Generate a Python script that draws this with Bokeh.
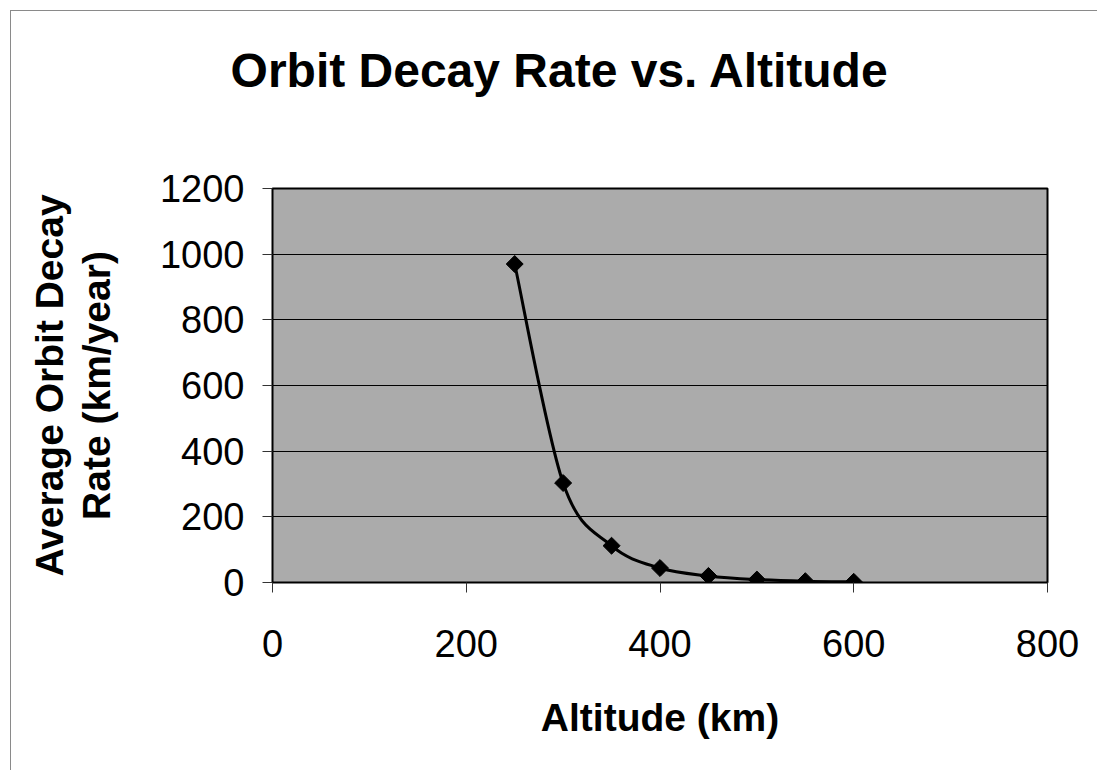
import numpy as np
from bokeh.plotting import figure
from bokeh.models import Range1d, FixedTicker, LinearAxis
from bokeh.embed import file_html
from bokeh.resources import INLINE

# Data
altitude_km = [250, 300, 350, 400, 450, 500, 550, 600]
decay_rate = [970, 303, 112, 44, 20, 9, 4, 2]
x_ticks = [0, 200, 400, 600, 800]
y_ticks = [0, 200, 400, 600, 800, 1000, 1200]

title_text = "Orbit Decay Rate vs. Altitude"
x_label = "Altitude (km)"
y_label = "Average Orbit Decay\nRate (km/year)"

FONT = "Liberation Sans"

p = figure(
    output_backend="svg", toolbar_location=None,
    frame_width=775, frame_height=394,
    min_border_left=261, min_border_right=50,
    min_border_top=177, min_border_bottom=188,
    x_range=Range1d(0, 800), y_range=Range1d(0, 1200),
)
p.styles = {"margin-left": "10px", "margin-top": "10px",
            "border-left": "1px solid #8a8a8a", "border-top": "1px solid #8a8a8a"}

p.background_fill_color = "#ababab"
p.border_fill_color = "white"
p.outline_line_color = "black"
p.outline_line_width = 2

p.xgrid.grid_line_color = None
p.ygrid.grid_line_color = "black"
p.ygrid.grid_line_width = 1.2

for ax in (p.xaxis[0], p.yaxis[0]):
    ax.axis_line_color = "black"
    ax.axis_line_width = 1
    ax.major_tick_line_color = "#333333"
    ax.major_tick_in = 0
    ax.major_tick_out = 10
    ax.minor_tick_line_color = None
    ax.major_label_text_font = FONT
    ax.major_label_text_font_size = "38px"
    ax.major_label_text_color = "black"
    ax.axis_label_text_font = FONT
    ax.axis_label_text_font_size = "39px"
    ax.axis_label_text_font_style = "bold"
    ax.axis_label_text_color = "black"

p.xaxis.ticker = FixedTicker(ticks=x_ticks)
p.yaxis.ticker = FixedTicker(ticks=y_ticks)
p.xaxis.axis_label = x_label
p.yaxis.axis_label = y_label
p.yaxis.axis_label_text_line_height = 1.1
p.xaxis.major_label_standoff = 37
p.yaxis.major_label_standoff = 18
p.xaxis.axis_label_standoff = 36
p.yaxis.axis_label_standoff = 39

# Chart title: label of a bare axis above the frame. Trailing no-break spaces
# move the visible text left so that it is centred over the whole chart.
title_axis = LinearAxis(
    axis_label=title_text + "\u00a0" * 15,
    ticker=FixedTicker(ticks=[]),
    axis_line_color=None, major_tick_line_color=None, minor_tick_line_color=None,
    major_label_text_color=None,
    axis_label_text_font=FONT, axis_label_text_font_size="48px",
    axis_label_text_font_style="bold", axis_label_text_color="black",
    axis_label_standoff=92,
)
p.add_layout(title_axis, "above")

# Smoothed line (Catmull-Rom style Bezier segments through the data points)
xs = np.array(altitude_km, dtype=float)
ys = np.array(decay_rate, dtype=float)
n = len(xs)
x0, y0, x1, y1, cx0, cy0, cx1, cy1 = [], [], [], [], [], [], [], []
for i in range(n - 1):
    pm = i - 1 if i > 0 else i
    pp = i + 2 if i + 2 < n else i + 1
    x0.append(xs[i]); y0.append(ys[i])
    x1.append(xs[i + 1]); y1.append(ys[i + 1])
    cx0.append(xs[i] + (xs[i + 1] - xs[pm]) / 6.0)
    cy0.append(ys[i] + (ys[i + 1] - ys[pm]) / 6.0)
    cx1.append(xs[i + 1] - (xs[pp] - xs[i]) / 6.0)
    cy1.append(ys[i + 1] - (ys[pp] - ys[i]) / 6.0)
p.bezier(x0=x0, y0=y0, x1=x1, y1=y1, cx0=cx0, cy0=cy0, cx1=cx1, cy1=cy1,
         line_color="black", line_width=3)

p.scatter(altitude_km, decay_rate, marker="square", angle=np.pi / 4, size=12,
          fill_color="black", line_color="black")

open("out.html", "w").write(file_html(p, INLINE))
